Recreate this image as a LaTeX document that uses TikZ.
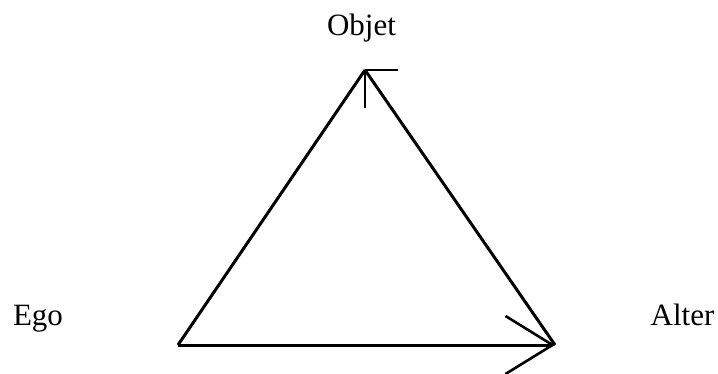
\documentclass[tikz,border=0pt]{standalone}
\usepackage{fontspec}
\setmainfont{Liberation Serif}
\usepackage{tikz}
\usetikzlibrary{arrows.meta,calc}
\tikzset{
  lbl/.style={anchor=base, inner sep=0pt, font=\fontsize{31}{36}\selectfont},
  side/.style={line width=3pt, line join=miter},
  barb/.style={line width=2.6pt},
  flow/.style={side, -{Straight Barb[length=47pt, width=58pt, line width=2.6pt]}},
}
\begin{document}
\begin{tikzpicture}[x=1pt, y=-1pt]
  \useasboundingbox (0,0) rectangle (718,374);
  % labels
  \node[lbl] (objet) at (361.5,36) {Objet};
  \node[lbl] (ego) at (38,326) {Ego};
  \node[lbl] (alter) at (682.5,326) {Alter};
  % corners of the triangle
  \coordinate (o) at (365,70);
  \coordinate (e) at (178,345);
  \coordinate (a) at (555,345);
  \draw[side] (e) -- (o);
  \draw[side] (a) -- (o);
  \draw[flow] (e) -- (a);
  % head on the apex
  \draw[barb] (o) -- ++(0,38);
  \draw[barb] (o) -- ++(33,0);
\end{tikzpicture}
\end{document}
